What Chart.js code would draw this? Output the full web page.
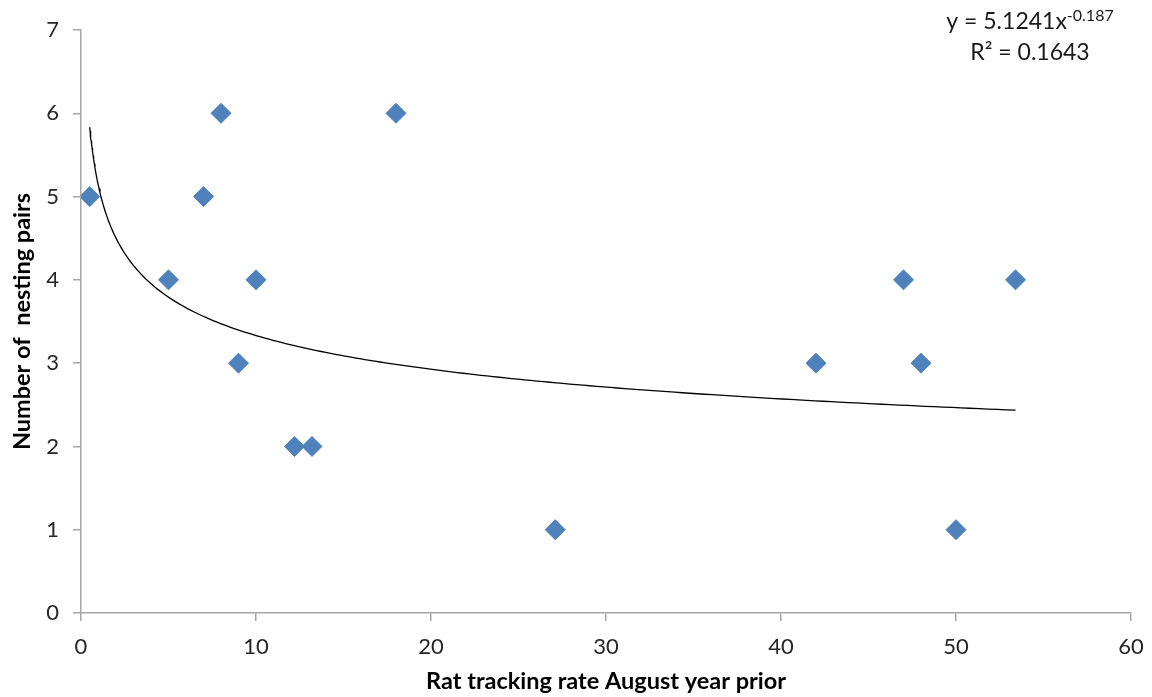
<!DOCTYPE html>
<html>
<head>
<meta charset="utf-8">
<script src="https://cdn.jsdelivr.net/npm/chart.js@4/dist/chart.umd.min.js"></script>
<style>
  html, body { margin: 0; padding: 0; background: #ffffff; }
  #wrap { width: 1152px; height: 697px; }
</style>
</head>
<body>
<div id="wrap"><canvas id="c" width="1152" height="697"></canvas></div>
<script>
// Observations: rat tracking rate (August, year prior) vs number of nesting pairs
const ratTracking  = [0.5, 5, 7, 8, 9, 10, 12.2, 13.2, 18, 27.1, 42, 47, 48, 50, 53.4];
const nestingPairs = [5,   4, 5, 6, 3, 4,  2,    2,    6,  1,    3,  4,  3,  1,  4];

// Axis tick values
const xTickValues = [0, 10, 20, 30, 40, 50, 60];
const yTickValues = [0, 1, 2, 3, 4, 5, 6, 7];

// Power trendline fit: y = a * x^b
const fitA = 5.1241;
const fitB = -0.187;
const fitR2 = 0.1643;

const FONT = 'Lato, "Open Sans", "DejaVu Sans", sans-serif';
const AXIS_GREY = '#a6a6a6';
const MARKER_BLUE = '#4f81bd';

// Trendline sampled across the range of the observed x values
const xMin = Math.min(...ratTracking);
const xMax = Math.max(...ratTracking);
const trendPoints = [];
const steps = 200;
for (let i = 0; i <= steps; i++) {
  const x = xMin + (xMax - xMin) * Math.pow(i / steps, 2);
  trendPoints.push({ x: x, y: fitA * Math.pow(x, fitB) });
}

const scatterPoints = ratTracking.map((x, i) => ({ x: x, y: nestingPairs[i] }));

// Equation and R² text near the top right corner
const equationLabel = {
  id: 'equationLabel',
  afterDraw(chart) {
    const { ctx, chartArea } = chart;
    ctx.save();
    ctx.fillStyle = '#1a1a1a';
    ctx.textBaseline = 'alphabetic';
    ctx.textAlign = 'left';
    const main = 'y = ' + fitA.toFixed(4) + 'x';
    const sup = fitB.toString();
    ctx.font = '23px ' + FONT;
    const mainW = ctx.measureText(main).width;
    ctx.font = '16px ' + FONT;
    const supW = ctx.measureText(sup).width;
    const cx = chartArea.right - 101;
    const startX = cx - (mainW + supW) / 2;
    ctx.font = '23px ' + FONT;
    ctx.fillText(main, startX, 29);
    ctx.font = '16px ' + FONT;
    ctx.fillText(sup, startX + mainW, 21);
    ctx.font = '23px ' + FONT;
    ctx.textAlign = 'center';
    ctx.fillText('R\u00b2 = ' + fitR2.toFixed(4), cx, 60);
    ctx.restore();
  }
};

new Chart(document.getElementById('c'), {
  type: 'scatter',
  data: {
    datasets: [
      {
        type: 'line',
        label: 'Power fit',
        data: trendPoints,
        borderColor: '#000000',
        borderWidth: 1.3,
        pointRadius: 0,
        fill: false,
        tension: 0,
        order: 0
      },
      {
        label: 'Nesting pairs',
        data: scatterPoints,
        pointStyle: 'rectRot',
        pointRadius: 10,
        pointHoverRadius: 10,
        backgroundColor: MARKER_BLUE,
        borderColor: MARKER_BLUE,
        borderWidth: 1,
        order: 1
      }
    ]
  },
  options: {
    responsive: false,
    animation: false,
    events: [],
    layout: { padding: { left: 0, right: 21, top: 30, bottom: 0 } },
    plugins: {
      legend: { display: false },
      tooltip: { enabled: false }
    },
    scales: {
      x: {
        type: 'linear',
        min: 0,
        max: 60,
        afterBuildTicks: (s) => { s.ticks = xTickValues.map(v => ({ value: v })); },
        afterFit: (s) => { s.height = 84; },
        border: { display: true, color: AXIS_GREY, width: 1.5 },
        grid: { drawOnChartArea: false, drawTicks: true, tickLength: 8, color: AXIS_GREY, lineWidth: 1.5 },
        ticks: { color: '#262626', font: { family: FONT, size: 22, lineHeight: 1.65 }, padding: 8, maxRotation: 0 },
        title: {
          display: true,
          text: 'Rat tracking rate August year prior',
          color: '#000000',
          font: { family: FONT, size: 23.5, weight: 'bold' },
          padding: { top: 0, bottom: 1 }
        }
      },
      y: {
        type: 'linear',
        min: 0,
        max: 7,
        afterBuildTicks: (s) => { s.ticks = yTickValues.map(v => ({ value: v })); },
        afterFit: (s) => { s.width = 81; },
        border: { display: true, color: AXIS_GREY, width: 1.5 },
        grid: { drawOnChartArea: false, drawTicks: true, tickLength: 8, color: AXIS_GREY, lineWidth: 1.5 },
        ticks: { color: '#262626', font: { family: FONT, size: 22 }, padding: 14 },
        title: {
          display: true,
          text: 'Number of  nesting pairs',
          color: '#000000',
          font: { family: FONT, size: 23.5, weight: 'bold' },
          padding: { top: 8, bottom: 0 }
        }
      }
    }
  },
  plugins: [equationLabel]
});
</script>
</body>
</html>
